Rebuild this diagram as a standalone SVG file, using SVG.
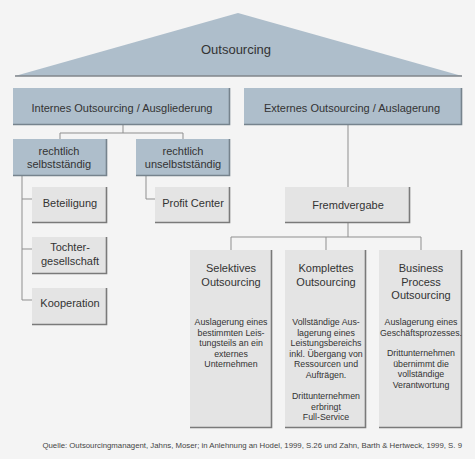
<svg xmlns="http://www.w3.org/2000/svg" width="475" height="459" viewBox="0 0 475 459">
<defs>
<style>
text{font-family:"Liberation Sans",Arial,sans-serif;fill:#333;text-anchor:middle}
.t{font-size:11px}
.b{font-size:8.8px}
.src{font-size:7.8px;fill:#444;text-anchor:end}
.blue{fill:#aebecb}
.gray{fill:#e4e4e4}
.sb{fill:none;stroke:#76838d;stroke-width:1.6}
.sg{fill:none;stroke:#7a7a7a;stroke-width:1.6}
.c{fill:none;stroke:#8f8f8f;stroke-width:1}
</style>
</defs>
<rect width="475" height="459" fill="#f4f4f4"/>
<g id="connectors">
<polyline class="c" points="123,125 123,133"/>
<polyline class="c" points="60,139 60,133 183,133 183,139"/>
<polyline class="c" points="22,176 22,300 32,300"/>
<polyline class="c" points="22,199 32,199"/>
<polyline class="c" points="22,249 32,249"/>
<polyline class="c" points="146,176 146,199 155,199"/>
<polyline class="c" points="348,125 348,187"/>
<polyline class="c" points="348,223 348,237"/>
<polyline class="c" points="231,250 231,237 421,237 421,250"/>
<polyline class="c" points="326,237 326,250"/>
</g>
<g id="outsourcing">
<polygon class="blue" points="15,76 238,13 462,76"/>
<line x1="15" y1="76" x2="462" y2="76" stroke="#80868b" stroke-width="1.4"/>
<text x="236" y="54" style="font-size:13px">Outsourcing</text>
</g>
<g id="intern">
<rect class="blue" x="13" y="88" width="217" height="37"/>
<polyline class="sb" points="229.5,88 229.5,124.5 13,124.5"/>
<text class="t" x="122" y="112">Internes Outsourcing / Ausgliederung</text>
</g>
<g id="extern">
<rect class="blue" x="244" y="88" width="218" height="37"/>
<polyline class="sb" points="461.5,88 461.5,124.5 244,124.5"/>
<text class="t" x="352" y="112">Externes Outsourcing / Auslagerung</text>
</g>
<g id="selbst">
<rect class="blue" x="13" y="139" width="94" height="37"/>
<polyline class="sb" points="106.5,139 106.5,175.5 13,175.5"/>
<text class="t" x="59" y="155">rechtlich</text>
<text class="t" x="59" y="168">selbstständig</text>
</g>
<g id="unselbst">
<rect class="blue" x="136" y="139" width="94" height="37"/>
<polyline class="sb" points="229.5,139 229.5,175.5 136,175.5"/>
<text class="t" x="183" y="155">rechtlich</text>
<text class="t" x="183" y="168">unselbstständig</text>
</g>
<g id="beteiligung">
<rect class="gray" x="32" y="187" width="75" height="36"/>
<polyline class="sg" points="106.5,187 106.5,222.5 32,222.5"/>
<text class="t" x="70" y="207">Beteiligung</text>
</g>
<g id="tochter">
<rect class="gray" x="32" y="237" width="75" height="37"/>
<polyline class="sg" points="106.5,237 106.5,273.5 32,273.5"/>
<text class="t" x="70" y="251">Tochter-</text>
<text class="t" x="70" y="265">gesellschaft</text>
</g>
<g id="kooperation">
<rect class="gray" x="32" y="288" width="75" height="37"/>
<polyline class="sg" points="106.5,288 106.5,324.5 32,324.5"/>
<text class="t" x="70" y="307">Kooperation</text>
</g>
<g id="profitcenter">
<rect class="gray" x="155" y="187" width="75" height="36"/>
<polyline class="sg" points="229.5,187 229.5,222.5 155,222.5"/>
<text class="t" x="193" y="207">Profit Center</text>
</g>
<g id="fremdvergabe">
<rect class="gray" x="285" y="187" width="125" height="36"/>
<polyline class="sg" points="409.5,187 409.5,222.5 285,222.5"/>
<text class="t" x="348" y="209">Fremdvergabe</text>
</g>
<g id="selektiv">
<rect class="gray" x="190" y="250" width="82" height="178"/>
<polyline class="sg" points="271.5,250 271.5,427.5 190,427.5"/>
<text class="t" x="231" y="272">Selektives</text>
<text class="t" x="231" y="286">Outsourcing</text>
<text class="b" x="231" y="325">Auslagerung eines</text>
<text class="b" x="231" y="335.5">bestimmten Leis-</text>
<text class="b" x="231" y="346">tungsteils an ein</text>
<text class="b" x="231" y="356.5">externes</text>
<text class="b" x="231" y="367">Unternehmen</text>
</g>
<g id="komplett">
<rect class="gray" x="285" y="250" width="81" height="178"/>
<polyline class="sg" points="365.5,250 365.5,427.5 285,427.5"/>
<text class="t" x="326" y="272">Komplettes</text>
<text class="t" x="326" y="286">Outsourcing</text>
<text class="b" x="326" y="325">Vollständige Aus-</text>
<text class="b" x="326" y="335.5">lagerung eines</text>
<text class="b" x="326" y="346">Leistungsbereichs</text>
<text class="b" x="326" y="356.5">inkl. Übergang von</text>
<text class="b" x="326" y="367">Ressourcen und</text>
<text class="b" x="326" y="377.5">Aufträgen.</text>
<text class="b" x="326" y="399">Drittunternehmen</text>
<text class="b" x="326" y="409.5">erbringt</text>
<text class="b" x="326" y="420">Full-Service</text>
</g>
<g id="bpo">
<rect class="gray" x="379" y="250" width="83" height="178"/>
<polyline class="sg" points="461.5,250 461.5,427.5 379,427.5"/>
<text class="t" x="421" y="272">Business</text>
<text class="t" x="421" y="286">Process</text>
<text class="t" x="421" y="299">Outsourcing</text>
<text class="b" x="421" y="325">Auslagerung eines</text>
<text class="b" x="421" y="335.5">Geschäftsprozesses.</text>
<text class="b" x="421" y="356">Drittunternehmen</text>
<text class="b" x="421" y="366.5">übernimmt die</text>
<text class="b" x="421" y="377">vollständige</text>
<text class="b" x="421" y="388">Verantwortung</text>
</g>
<text class="src" x="462" y="448">Quelle: Outsourcingmanagent, Jahns, Moser; in Anlehnung an Hodel, 1999, S.26 und Zahn, Barth &amp; Hertweck, 1999, S. 9</text>
</svg>
